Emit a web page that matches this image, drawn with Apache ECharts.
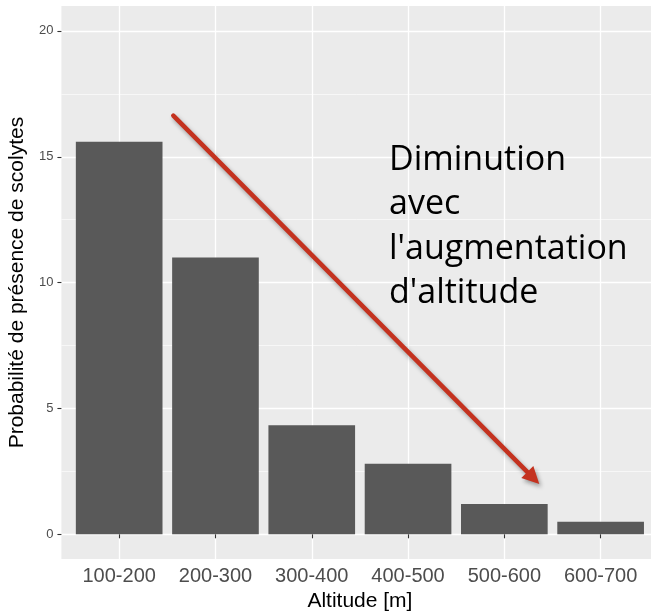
<!DOCTYPE html>
<html>
<head>
<meta charset="utf-8">
<script src="https://cdn.jsdelivr.net/npm/echarts@6/dist/echarts.min.js"></script>
<style>
  html, body { margin: 0; padding: 0; background: #ffffff; }
  #chart { width: 651px; height: 616px; }
</style>
</head>
<body>
<div id="chart"></div>
<script>
// ---- data ----
const categories = ['100-200', '200-300', '300-400', '400-500', '500-600', '600-700'];
const values = [15.6, 11.0, 4.33, 2.8, 1.2, 0.5];
const yMin = 0;
const yMax = 20;
const yStep = 5;
const xTitle = 'Altitude [m]';
const yTitle = 'Probabilité de présence de scolytes';
const annotationLines = ['Diminution', 'avec', "l'augmentation", "d'altitude"];

// ---- layout ----
const panel = { left: 61.4, top: 6, width: 597, height: 553 };
const dataTop = 30.9, dataBottom = 534.3;
const bandW = panel.width / (categories.length + 0.2); // ggplot expansion of 0.6 each side
const dataLeft = panel.left + 0.1 * bandW;
const dataWidth = bandW * categories.length;

const font = 'Liberation Sans, Arial, Helvetica, sans-serif';
const chart = echarts.init(document.getElementById('chart'), null, { renderer: 'canvas' });

// arrow geometry (annotation)
const aStart = [173.3, 115.7], aTip = [539.3, 484];
const dx = aTip[0] - aStart[0], dy = aTip[1] - aStart[1];
const len = Math.sqrt(dx * dx + dy * dy);
const ux = dx / len, uy = dy / len;
const headLen = 17, headHalf = 8.5;
const base = [aTip[0] - headLen * ux, aTip[1] - headLen * uy];
const c1 = [base[0] - headHalf * uy, base[1] + headHalf * ux];
const c2 = [base[0] + headHalf * uy, base[1] - headHalf * ux];
const arrowColor = '#C4321F';
const shadow = { shadowBlur: 4, shadowColor: 'rgba(0,0,0,0.35)', shadowOffsetX: 2, shadowOffsetY: 3 };

const option = {
  backgroundColor: '#ffffff',
  animation: false,
  grid: [
    // panel (background + vertical grid lines)
    { left: panel.left, top: panel.top, width: panel.width, height: panel.height,
      show: true, backgroundColor: '#EBEBEB', borderWidth: 0, containLabel: false, outerBoundsMode: 'none' },
    // horizontal grid lines (full panel width, 0..20 range)
    { left: panel.left, top: dataTop, width: panel.width, height: dataBottom - dataTop,
      show: false, containLabel: false, outerBoundsMode: 'none' },
    // bars
    { left: dataLeft, top: dataTop, width: dataWidth, height: dataBottom - dataTop,
      show: false, containLabel: false, outerBoundsMode: 'none' }
  ],
  xAxis: [
    { gridIndex: 0, type: 'value', min: 0.4, max: categories.length + 0.6,
      axisLine: { show: false }, axisTick: { show: false }, axisLabel: { show: false },
      splitLine: { show: true, showMinLine: false, showMaxLine: false, lineStyle: { color: '#ffffff', width: 1.3 } } },
    { gridIndex: 1, type: 'value', min: 0, max: 1, show: false },
    { gridIndex: 2, type: 'category', data: categories, boundaryGap: true, offset: panel.top + panel.height - dataBottom,
      axisLine: { show: false },
      axisTick: { show: true, alignWithLabel: true, length: 4, lineStyle: { color: '#333333', width: 1.1 } },
      axisLabel: { fontSize: 20, color: '#4D4D4D', fontFamily: font, margin: 7 },
      splitLine: { show: false },
      name: xTitle, nameLocation: 'middle', nameGap: 29,
      nameTextStyle: { fontSize: 21, color: '#000000', fontFamily: font } }
  ],
  yAxis: [
    { gridIndex: 0, type: 'value', min: 0, max: 1, show: false },
    { gridIndex: 1, type: 'value', min: yMin, max: yMax, interval: yStep,
      axisLine: { show: false },
      axisTick: { show: true, length: 4, lineStyle: { color: '#333333', width: 1.1 } },
      axisLabel: { fontSize: 13, color: '#4D4D4D', fontFamily: font, margin: 8 },
      splitLine: { show: true, lineStyle: { color: '#ffffff', width: 1.3 } },
      minorTick: { show: false, splitNumber: 2 },
      minorSplitLine: { show: true, lineStyle: { color: '#ffffff', width: 0.6 } },
      name: yTitle, nameLocation: 'middle', nameGap: 27,
      nameTextStyle: { fontSize: 21, color: '#000000', fontFamily: font } },
    { gridIndex: 2, type: 'value', min: yMin, max: yMax, show: false }
  ],
  series: [
    { type: 'bar', xAxisIndex: 2, yAxisIndex: 2, data: values, barCategoryGap: '10%',
      itemStyle: { color: '#595959' }, silent: true }
  ],
  graphic: [
    { type: 'line', z: 100,
      shape: { x1: aStart[0], y1: aStart[1], x2: base[0] + 2 * ux, y2: base[1] + 2 * uy },
      style: Object.assign({ stroke: arrowColor, lineWidth: 4.5, lineCap: 'round' }, shadow) },
    { type: 'polygon', z: 100,
      shape: { points: [aTip, c1, c2] },
      style: Object.assign({ fill: arrowColor }, shadow) },
    { type: 'text', z: 100, left: 389, top: 138,
      style: { text: annotationLines.join('\n'), fontSize: 34, lineHeight: 44.4,
               fontFamily: 'Open Sans, Noto Sans, sans-serif', fill: '#000000' } }
  ]
};
chart.setOption(option);
</script>
</body>
</html>
